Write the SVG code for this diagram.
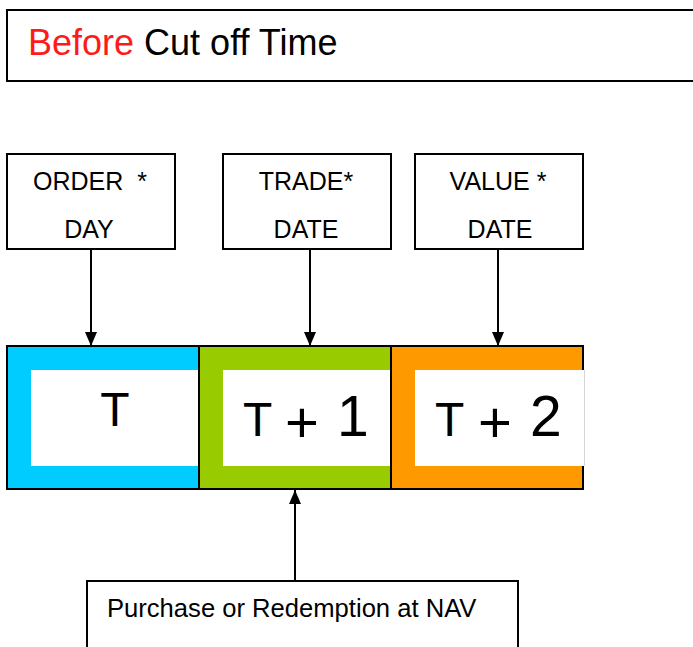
<svg xmlns="http://www.w3.org/2000/svg" width="693" height="647" viewBox="0 0 693 647">
  <defs>
    <style>
      .box { fill: #ffffff; stroke: #000000; stroke-width: 2; }
      .lbl { font-family: "Liberation Sans", Arial, sans-serif; font-size: 25px; fill: #000000; text-anchor: middle; white-space: pre; }
      .note { font-family: "Liberation Sans", Arial, sans-serif; font-size: 25.6px; fill: #000000; text-anchor: start; }
      .big { font-family: "Liberation Sans", Arial, sans-serif; font-size: 48px; fill: #000000; }
      .plus { font-size: 58px; text-anchor: middle; }
      .digit { font-size: 57px; }
      .seg { stroke: #000000; stroke-width: 2; }
      .hole { fill: #ffffff; }
      .conn { stroke: #000000; stroke-width: 2; fill: none; }
    </style>
    <marker id="arrow" markerUnits="userSpaceOnUse" markerWidth="15" markerHeight="15" viewBox="0 0 15 15" refX="14" refY="7.5" orient="auto">
      <path d="M0,1.5 L14,7.5 L0,13.5 Z" fill="#000000"/>
    </marker>
  </defs>

  <!-- heading banner -->
  <g id="heading">
    <rect class="box" x="7" y="10" width="700" height="71"/>
    <text x="28" y="55" font-family="Liberation Sans, Arial, sans-serif" font-size="36"><tspan fill="#ff1a1a">Before</tspan><tspan fill="#000000"> Cut off Time</tspan></text>
  </g>

  <!-- label boxes -->
  <g id="order-day">
    <rect class="box" x="7" y="154" width="168" height="95"/>
    <text class="lbl" x="90" y="190">ORDER  *</text>
    <text class="lbl" x="89" y="238">DAY</text>
  </g>
  <g id="trade-date">
    <rect class="box" x="223" y="154" width="168" height="95"/>
    <text class="lbl" x="306" y="190">TRADE*</text>
    <text class="lbl" x="306" y="238">DATE</text>
  </g>
  <g id="value-date">
    <rect class="box" x="415" y="154" width="168" height="95"/>
    <text class="lbl" x="498" y="190">VALUE *</text>
    <text class="lbl" x="500" y="238">DATE</text>
  </g>

  <!-- timeline strip -->
  <g id="day-t">
    <rect class="seg" x="7" y="346" width="192" height="143" fill="#00ccff"/>
    <rect class="hole" x="31" y="370" width="169" height="96"/>
    <text class="big" x="115" y="426" text-anchor="middle">T</text>
  </g>
  <g id="day-t1">
    <rect class="seg" x="199" y="346" width="192" height="143" fill="#99cc00"/>
    <rect class="hole" x="223" y="370" width="169" height="96"/>
    <text class="big" x="243" y="436">T</text>
    <text class="big plus" x="302" y="442">+</text>
    <text class="big digit" x="337" y="436">1</text>
  </g>
  <g id="day-t2">
    <rect class="seg" x="391" y="346" width="192" height="143" fill="#ff9900"/>
    <rect class="hole" x="415" y="370" width="169" height="96"/>
    <line x1="584.5" y1="370" x2="584.5" y2="466" stroke="#d6d6d6" stroke-width="1"/>
    <text class="big" x="435" y="436">T</text>
    <text class="big plus" x="495" y="442">+</text>
    <text class="big digit" x="530" y="436">2</text>
  </g>

  <!-- settlement note -->
  <g id="nav-note">
    <rect class="box" x="87" y="581" width="431" height="120"/>
    <text class="note" x="107" y="617">Purchase or Redemption at NAV</text>
  </g>

  <!-- connectors -->
  <g id="connectors">
    <line class="conn" x1="91" y1="249" x2="91" y2="346" marker-end="url(#arrow)"/>
    <line class="conn" x1="310" y1="249" x2="310" y2="346" marker-end="url(#arrow)"/>
    <line class="conn" x1="498" y1="249" x2="498" y2="346" marker-end="url(#arrow)"/>
    <line class="conn" x1="295" y1="581" x2="295" y2="490" marker-end="url(#arrow)"/>
  </g>
</svg>
